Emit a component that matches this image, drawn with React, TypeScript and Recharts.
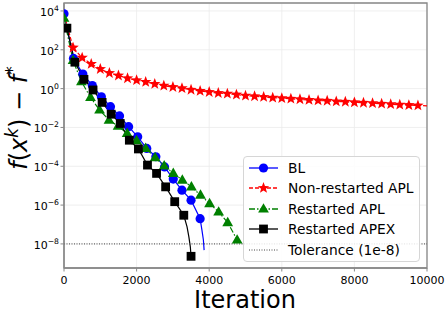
import React from 'react';
import { LineChart, Line, XAxis, YAxis, CartesianGrid, ReferenceLine, ReferenceArea, Legend } from 'recharts';

// ticks
const xTicks = [0, 2000, 4000, 6000, 8000, 10000];
const yTicks = [1e4, 1e2, 1, 1e-2, 1e-4, 1e-6, 1e-8];
const yDomain = [5.75e-10, 2.57e4];
const tolerance = 1e-8;

// BL (markers) + tail of the curve without markers
const blIter = [0, 260, 520, 780, 1030, 1280, 1530, 1780, 2030, 2280, 2530, 2770, 3010, 3250, 3500, 3750];
const blValue = [7.1e3, 36, 5.6, 1.45, 0.38, 0.117, 0.039, 0.011, 3.3e-3, 8.3e-4, 3.1e-4, 9.3e-5, 2.2e-5, 5.9e-6, 1.8e-6, 2.0e-7];
const blTailIter = [3800, 3840, 3860];
const blTailValue = [5.1e-8, 1.6e-8, 4.8e-9];

// Non-restarted APL
const aplIter = [
  250, 500, 750, 1000, 1250, 1500, 1750, 2000, 2250, 2500, 2750, 3000, 3250, 3500, 3750, 4000, 4250, 4500, 4750, 5000,
  5250, 5500, 5750, 6000, 6250, 6500, 6750, 7000, 7250, 7500, 7750, 8000, 8250, 8500, 8750, 9000, 9250, 9500, 9750,
];
const aplValue = [
  129, 39, 18.6, 10.2, 6.3, 4.7, 3.4, 2.7, 2.2, 1.74, 1.41, 1.2, 1.05, 0.87, 0.76, 0.66, 0.59, 0.55, 0.49, 0.43,
  0.4, 0.37, 0.34, 0.32, 0.3, 0.28, 0.26, 0.245, 0.234, 0.219, 0.209, 0.195, 0.186, 0.178, 0.166, 0.158, 0.148, 0.141, 0.135,
];
const aplTailIter = [0, 10000];
const aplTailValue = [7.1e3, 0.129];

// Restarted APL
const rAplIter = [0, 250, 480, 730, 980, 1240, 1490, 1740, 2000, 2250, 2510, 2760, 3010, 3260, 3510, 3760, 4010, 4260, 4510, 4770];
const rAplValue = [4.2e3, 28, 2.3, 0.355, 0.079, 0.024, 0.0117, 5.0e-3, 2.1e-3, 8.3e-4, 2.8e-4, 1.05e-4, 4.3e-5, 1.95e-5, 8.7e-6, 3.3e-6, 1.2e-6, 4.4e-7, 1.26e-7, 1.6e-8];

// Restarted APEX
const apexIter = [80, 300, 550, 800, 1050, 1300, 1550, 1800, 2050, 2300, 2550, 2800, 3050, 3300, 3500];
const apexValue = [1.3e3, 23, 3.0, 0.85, 0.195, 0.048, 0.016, 2.2e-3, 7.8e-4, 1.15e-4, 4.3e-5, 8.7e-6, 1.5e-6, 3.0e-7, 2.3e-9];
const apexTailIter = [3390, 3440, 3480];
const apexTailValue = [7.6e-8, 2.3e-8, 7.1e-9];

type Pt = { x: number; y: number; m: boolean };

const build = (iter: number[], value: number[], tIter: number[], tValue: number[]): Pt[] =>
  [
    ...iter.map((x, i) => ({ x, y: value[i], m: true })),
    ...tIter.map((x, i) => ({ x, y: tValue[i], m: false })),
  ].sort((a, b) => a.x - b.x);

const starPoints = (cx: number, cy: number, R: number, r: number) => {
  const pts: string[] = [];
  for (let i = 0; i < 10; i++) {
    const rad = i % 2 === 0 ? R : r;
    const a = -Math.PI / 2 + (i * Math.PI) / 5;
    pts.push(`${cx + rad * Math.cos(a)},${cy + rad * Math.sin(a)}`);
  }
  return pts.join(' ');
};

const Marker = ({ kind, cx, cy, color }: { kind: string; cx: number; cy: number; color: string }) => {
  if (kind === 'circle') return <circle cx={cx} cy={cy} r={4.6} fill={color} />;
  if (kind === 'star') return <polygon points={starPoints(cx, cy, 6, 2.5)} fill={color} />;
  if (kind === 'triangle')
    return <polygon points={`${cx},${cy - 5.8} ${cx + 5.4},${cy + 3.6} ${cx - 5.4},${cy + 3.6}`} fill={color} />;
  return <rect x={cx - 4.4} y={cy - 4.4} width={8.8} height={8.8} fill={color} />;
};

const series = [
  { name: 'BL', color: '#0000ff', dash: undefined, marker: 'circle', data: build(blIter, blValue, blTailIter, blTailValue) },
  { name: 'Non-restarted APL', color: '#ff0000', dash: '4 2', marker: 'star', data: build(aplIter, aplValue, aplTailIter, aplTailValue) },
  { name: 'Restarted APL', color: '#008000', dash: '6 2 1.5 2', marker: 'triangle', data: build(rAplIter, rAplValue, [], []) },
  { name: 'Restarted APEX', color: '#000000', dash: undefined, marker: 'square', data: build(apexIter, apexValue, apexTailIter, apexTailValue) },
];

const FONT = '"DejaVu Sans", sans-serif';

const XTick = ({ x, y, payload }: any) => (
  <text x={x} y={y + 9} textAnchor="middle" fontSize={11} fontFamily={FONT} fill="#000">
    {payload.value}
  </text>
);

const YTick = ({ x, y, payload }: any) => {
  const e = Math.round(Math.log10(payload.value));
  const sup = e < 0 ? `\u2212${-e}` : `${e}`;
  return (
    <text x={x} y={y + 5} textAnchor="end" fontSize={11} fontFamily={FONT} fill="#000">
      10
      <tspan fontSize={7.7} dy={-5}>{sup}</tspan>
    </text>
  );
};

const YLabel = () => (
  <text transform="translate(27,118) rotate(-90)" textAnchor="middle" fontSize={24} fontFamily={FONT} fill="#000">
    <tspan fontStyle="italic">f</tspan>
    <tspan>(</tspan>
    <tspan fontStyle="italic">x</tspan>
    <tspan fontStyle="italic" fontSize={17} dy={-9}>k</tspan>
    <tspan dy={9}>) {'\u2212'} </tspan>
    <tspan fontStyle="italic">f</tspan>
    <tspan fontSize={17} dy={-9}>*</tspan>
  </text>
);

const XLabel = () => (
  <text x={245} y={307.5} textAnchor="middle" fontSize={24} fontFamily={FONT} fill="#000">
    Iteration
  </text>
);

const LegendBox = () => (
  <div
    style={{
      width: 177,
      height: 106,
      boxSizing: 'border-box',
      border: '1px solid #d6d6d6',
      borderRadius: 4,
      background: 'rgba(255,255,255,0.85)',
      fontFamily: FONT,
      fontSize: 13.8,
      color: '#000',
      position: 'relative',
    }}
  >
    {[...series, { name: 'Tolerance (1e-8)', color: '#444', dash: '1 1.5', marker: '' }].map((s, i) => (
      <div key={s.name} style={{ position: 'absolute', left: 0, top: 0.7 + i * 20.5, height: 20, display: 'flex', alignItems: 'center', whiteSpace: 'nowrap' }}>
        <svg width={44} height={20} style={{ display: 'block' }}>
          <line x1={5} x2={34} y1={10} y2={10} stroke={s.color} strokeWidth={s.marker ? 1.3 : 1} strokeDasharray={s.dash} />
          {s.marker && <Marker kind={s.marker} cx={19.5} cy={10} color={s.color} />}
        </svg>
        <span style={{ lineHeight: '20px' }}>{s.name}</span>
      </div>
    ))}
  </div>
);

export default function App() {
  return (
    <div style={{ position: 'absolute', left: 0, top: 0, width: 448, height: 315, background: '#fff' }}>
      <LineChart width={448} height={315} margin={{ top: 3, right: 21, bottom: 0, left: 0 }}>
        <CartesianGrid stroke="#ebebeb" strokeWidth={0.8} />
        <XAxis
          type="number"
          dataKey="x"
          domain={[0, 10000]}
          ticks={xTicks}
          height={47}
          tickSize={3.5}
          tickMargin={3.5}
          tick={<XTick />}
          tickLine={{ stroke: '#888' }}
          axisLine={{ stroke: '#888', strokeWidth: 1.3 }}
          label={<XLabel />}
          allowDataOverflow
        />
        <YAxis
          type="number"
          dataKey="y"
          scale="log"
          domain={yDomain}
          ticks={yTicks}
          width={64}
          tickSize={3.5}
          tickMargin={1.5}
          tick={<YTick />}
          tickLine={{ stroke: '#888' }}
          axisLine={{ stroke: '#888', strokeWidth: 1.3 }}
          label={<YLabel />}
          allowDataOverflow
        />
        {series.map((s) => (
          <Line
            key={s.name}
            data={s.data}
            dataKey="y"
            name={s.name}
            type="linear"
            stroke={s.color}
            strokeWidth={1.2}
            strokeDasharray={s.dash}
            isAnimationActive={false}
            activeDot={false}
            dot={(p: any) =>
              p.payload.m ? (
                <Marker key={`${s.name}-${p.index}`} kind={s.marker} cx={p.cx} cy={p.cy} color={s.color} />
              ) : (
                <g key={`${s.name}-${p.index}`} />
              )
            }
          />
        ))}
        <ReferenceLine y={tolerance} stroke="#444" strokeWidth={1} strokeDasharray="1 1.5" />
        <ReferenceArea x1={0} x2={10000} y1={yDomain[0]} y2={yDomain[1]} fill="none" stroke="#888" strokeWidth={1.3} />
        <Legend
          layout="vertical"
          align="center"
          verticalAlign="middle"
          content={<LegendBox />}
          wrapperStyle={{ left: 243, top: 156, width: 177, height: 106 }}
        />
      </LineChart>
    </div>
  );
}
